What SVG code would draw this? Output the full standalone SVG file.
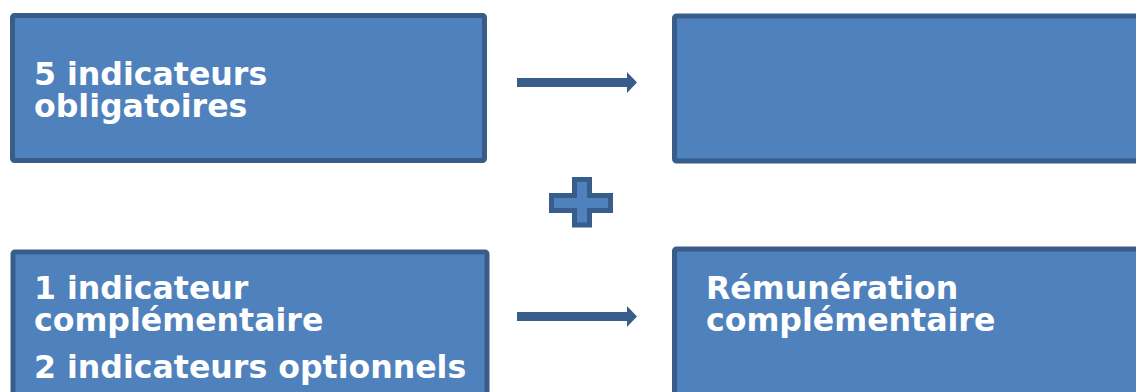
<svg xmlns="http://www.w3.org/2000/svg" width="1136" height="392" viewBox="0 0 1136 392">
<style>
.box{fill:#4f81bd;stroke:#385d8a;stroke-width:5}
.t{font-family:"DejaVu Sans",Verdana,sans-serif;font-weight:bold;font-size:31.6px;fill:#ffffff}
.arr{fill:#385d8a}
</style>
<rect x="0" y="0" width="1136" height="392" fill="#ffffff"/>
<g id="node-obligatoires">
<rect class="box" x="12.5" y="15.5" width="472" height="145" rx="2"/>
<text class="t" x="34" y="85">5 indicateurs</text>
<text class="t" x="34" y="117">obligatoires</text>
</g>
<g id="node-top-right">
<rect class="box" x="674.5" y="16" width="480" height="145" rx="2"/>
</g>
<g id="node-complementaire">
<rect class="box" x="13" y="252" width="474" height="160" rx="2"/>
<text class="t" x="34" y="299">1 indicateur</text>
<text class="t" x="34" y="331">complémentaire</text>
<text class="t" x="34" y="378">2 indicateurs optionnels</text>
</g>
<g id="node-remuneration">
<rect class="box" x="674.5" y="249" width="480" height="160" rx="2"/>
<text class="t" x="706" y="299">Rémunération</text>
<text class="t" x="706" y="331">complémentaire</text>
</g>
<g id="plus">
<path d="M574.5,179.5 H589.5 V195.5 H610.5 V210.5 H589.5 V225 H574.5 V210.5 H551.5 V195.5 H574.5 Z" fill="#4f81bd" stroke="#385d8a" stroke-width="5"/>
</g>
<g id="connectors">
<path class="arr" d="M517,78 H627 V72 L637,82.5 L627,93 V87 H517 Z"/>
<path class="arr" d="M517,312 H627 V306 L637,316.5 L627,327 V321 H517 Z"/>
</g>
</svg>
